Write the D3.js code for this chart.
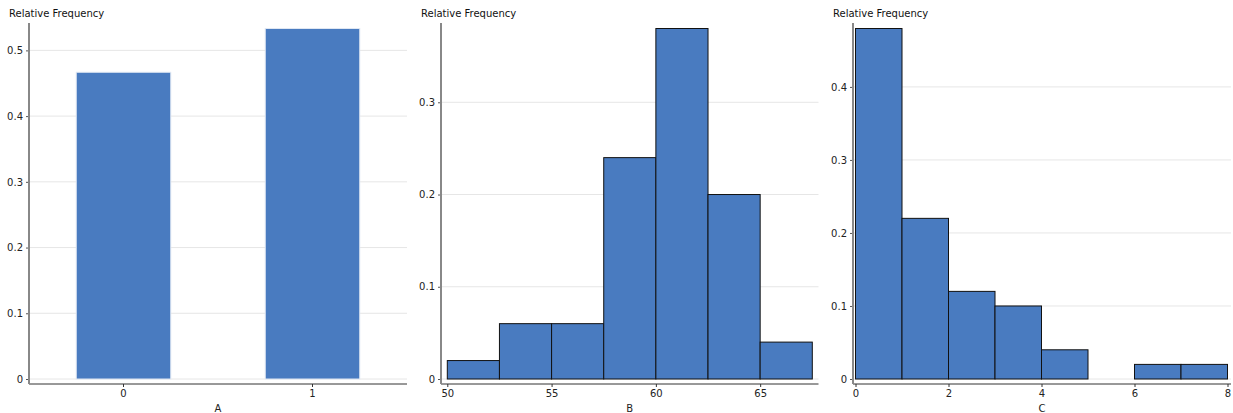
<!DOCTYPE html>
<html>
<head>
<meta charset="utf-8">
<script src="https://cdn.jsdelivr.net/npm/d3@7"></script>
<style>
  body { margin: 0; background: #fff; }
  text { font-family: "DejaVu Sans", sans-serif; }
</style>
</head>
<body>
<div class="container"></div>
<script>
// panel A: bar chart of a 0/1 variable
const catsA = ["0", "1"];
const freqA = [0.4667, 0.5333];
const yTicksA = [0, 0.1, 0.2, 0.3, 0.4, 0.5];

// panel B: histogram, bin edges + relative frequency
const edgesB = [50, 52.5, 55, 57.5, 60, 62.5, 65, 67.5];
const freqB = [0.02, 0.06, 0.06, 0.24, 0.38, 0.20, 0.04];
const xTicksB = [50, 55, 60, 65];
const yTicksB = [0, 0.1, 0.2, 0.3];

// panel C: histogram
const edgesC = [0, 1, 2, 3, 4, 5, 6, 7, 8];
const freqC = [0.48, 0.22, 0.12, 0.10, 0.04, 0, 0.02, 0.02];
const xTicksC = [0, 2, 4, 6, 8];
const yTicksC = [0, 0.1, 0.2, 0.3, 0.4];

const w = 1233, h = 413;
const plotTop = 23, plotBottom = 384;
const y0 = 379, yMaxPx = 28.5;
const barColor = "#497bc0";
const fmt = (d) => String(+d.toFixed(2));

const svg = d3.select(".container")
              .append("svg")
              .attr("width", w)
              .attr("height", h);

function panel(left, right, name, yTicks, yMax) {
  const g = svg.append("g");
  const yScale = d3.scaleLinear().domain([0, yMax]).range([y0, yMaxPx]);

  // grid
  g.selectAll(".grid")
   .data(yTicks).enter()
   .append("line")
   .attr("x1", left).attr("x2", right)
   .attr("y1", (d) => yScale(d)).attr("y2", (d) => yScale(d))
   .attr("stroke", "#e6e6e6").attr("stroke-width", 1);

  const yAxis = d3.axisLeft(yScale).tickValues(yTicks).tickFormat(fmt).tickSize(3).tickPadding(3);
  const ya = g.append("g")
              .attr("transform", `translate(${left}, 0)`)
              .call(yAxis);
  ya.select(".domain").remove();
  ya.selectAll(".tick line").attr("stroke", "#555");
  ya.selectAll("text").style("font-size", "10px").attr("fill", "#222");

  g.append("text")
   .text("Relative Frequency")
   .attr("x", left - 20).attr("y", 17)
   .style("font-size", "10px").attr("fill", "#111");

  g.append("text")
   .text(name)
   .attr("x", (left + right) / 2).attr("y", 411.5)
   .attr("text-anchor", "middle")
   .style("font-size", "10px").attr("fill", "#222");

  return { g, yScale };
}

function finishAxes(g, left, right, xAxis) {
  const xa = g.append("g")
              .attr("transform", `translate(0, ${plotBottom})`)
              .call(xAxis);
  xa.select(".domain").remove();
  xa.selectAll(".tick line").attr("stroke", "#333");
  xa.selectAll("text").style("font-size", "10px").attr("fill", "#222");

  g.append("line")
   .attr("x1", left).attr("x2", right)
   .attr("y1", plotBottom).attr("y2", plotBottom)
   .attr("stroke", "#333").attr("stroke-width", 1);
  g.append("line")
   .attr("x1", left).attr("x2", left)
   .attr("y1", plotTop).attr("y2", plotBottom)
   .attr("stroke", "#888").attr("stroke-width", 2);
}

// ---- A ----
{
  const left = 29, right = 407;
  const { g, yScale } = panel(left, right, "A", yTicksA, d3.max(freqA));
  const x = d3.scaleBand().domain(catsA).range([left, right]).paddingInner(0.5).paddingOuter(0.25);
  g.selectAll(".bar")
   .data(freqA).enter()
   .append("rect")
   .attr("x", (d, i) => x(catsA[i]))
   .attr("width", x.bandwidth())
   .attr("y", (d) => yScale(d))
   .attr("height", (d) => y0 - yScale(d))
   .attr("fill", barColor)
   .attr("stroke", "#dfe7f3").attr("stroke-width", 1);
  finishAxes(g, left, right, d3.axisBottom(x).tickSize(3).tickPadding(3));
}

// ---- B ----
{
  const left = 441, right = 818.5;
  const { g, yScale } = panel(left, right, "B", yTicksB, d3.max(freqB));
  const x = d3.scaleLinear().domain([50, 67.5]).range([447.3, 812.3]);
  g.selectAll(".bar")
   .data(freqB).enter()
   .append("rect")
   .attr("x", (d, i) => x(edgesB[i]))
   .attr("width", (d, i) => x(edgesB[i + 1]) - x(edgesB[i]))
   .attr("y", (d) => yScale(d))
   .attr("height", (d) => y0 - yScale(d))
   .attr("fill", barColor)
   .attr("stroke", "#111").attr("stroke-width", 1);
  finishAxes(g, left, right, d3.axisBottom(x).tickValues(xTicksB).tickFormat(fmt).tickSize(3).tickPadding(3));
}

// ---- C ----
{
  const left = 853, right = 1231;
  const { g, yScale } = panel(left, right, "C", yTicksC, d3.max(freqC));
  const x = d3.scaleLinear().domain([0, 8]).range([855.5, 1227.5]);
  g.selectAll(".bar")
   .data(freqC.map((f, i) => ({ f, i })).filter((d) => d.f > 0)).enter()
   .append("rect")
   .attr("x", (d) => x(edgesC[d.i]))
   .attr("width", (d) => x(edgesC[d.i + 1]) - x(edgesC[d.i]))
   .attr("y", (d) => yScale(d.f))
   .attr("height", (d) => y0 - yScale(d.f))
   .attr("fill", barColor)
   .attr("stroke", "#111").attr("stroke-width", 1);
  finishAxes(g, left, right, d3.axisBottom(x).tickValues(xTicksC).tickFormat(fmt).tickSize(3).tickPadding(3));
}
</script>
</body>
</html>
